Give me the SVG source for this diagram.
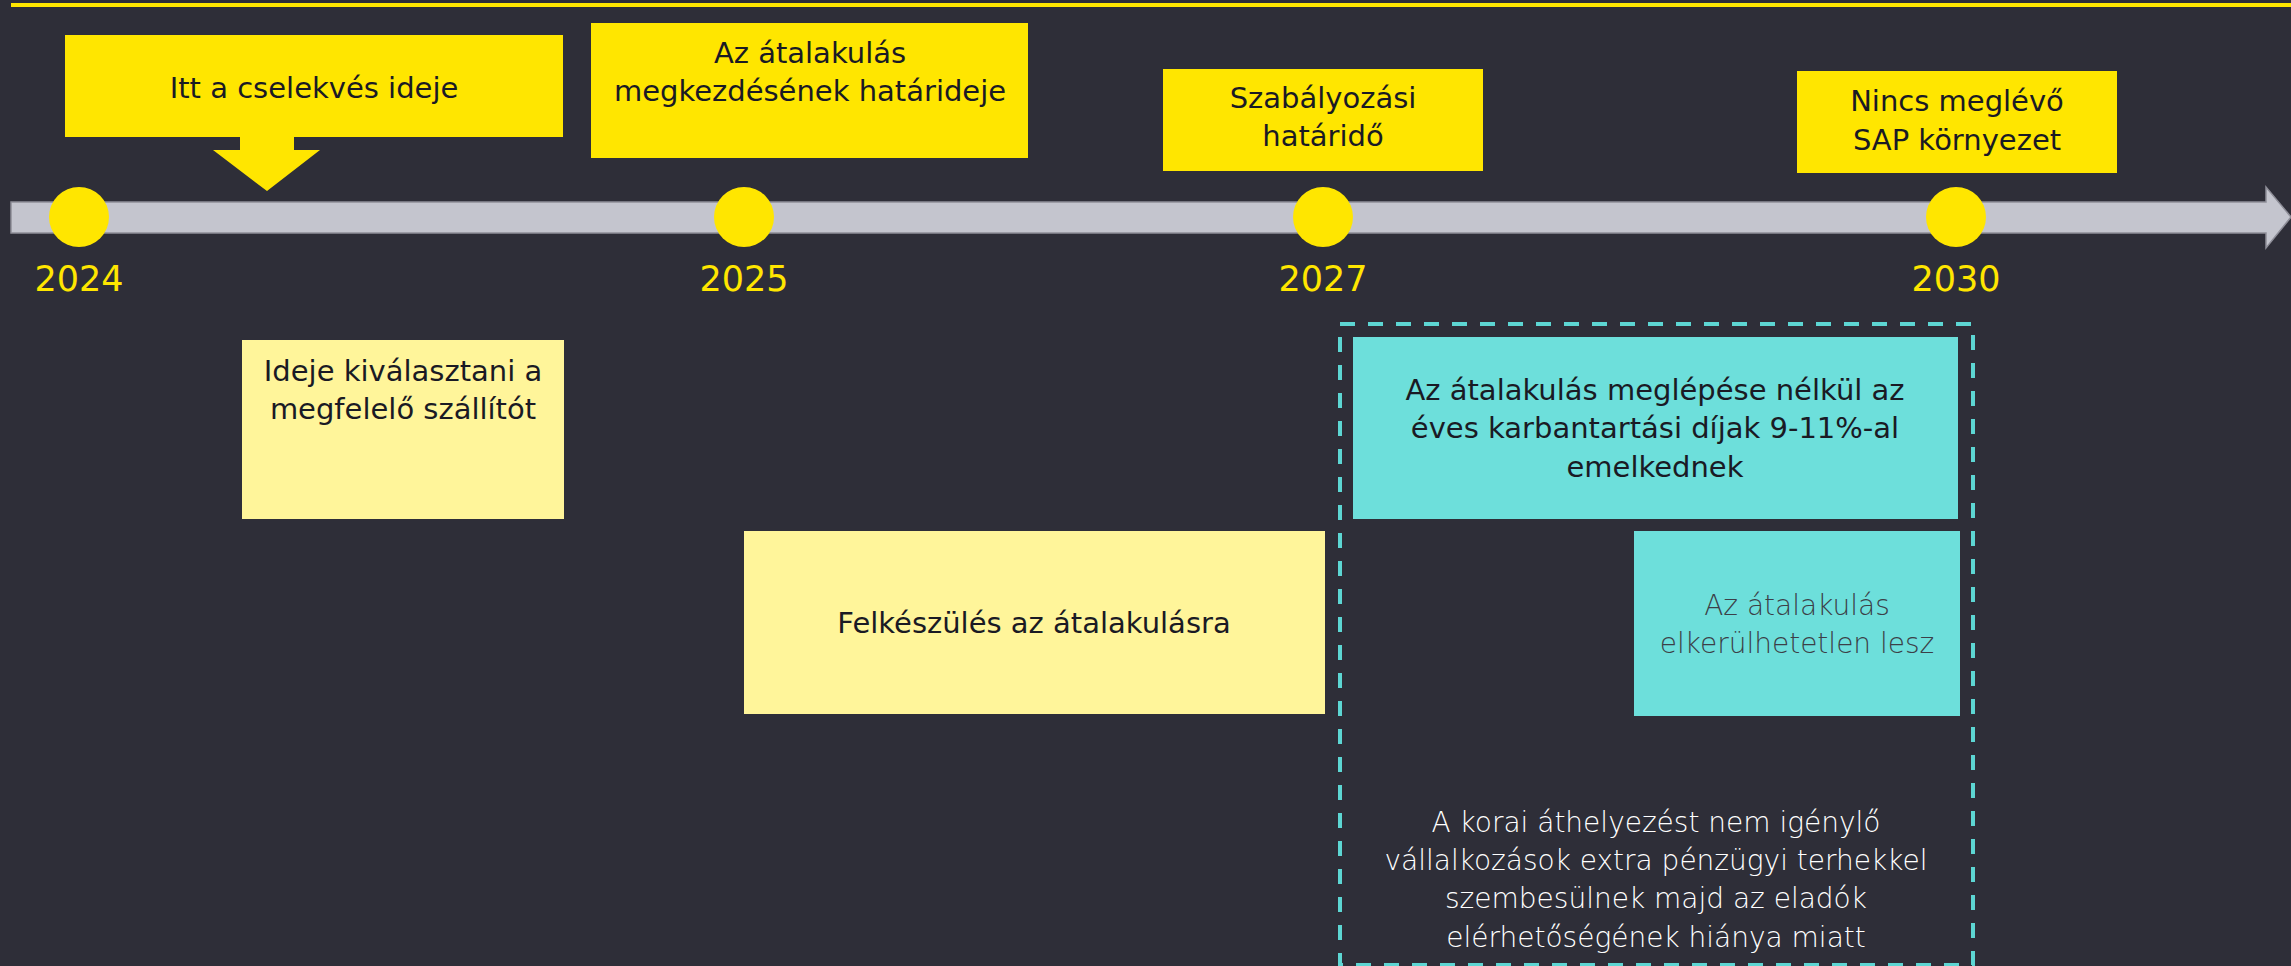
<svg xmlns="http://www.w3.org/2000/svg" width="2291" height="966" viewBox="0 0 2291 966">
<style>
.t{font-family:"DejaVu Sans","Liberation Sans",sans-serif;text-anchor:middle}
.dk{fill:#1a1a24;font-size:29px}
.yr{fill:#ffe600;font-size:35px}
.lt{font-size:28px;font-weight:200}
.yb{fill:#ffe600}
.ly{fill:#fff59a}
.cy{fill:#6ddfdb}
</style>
<rect x="0" y="0" width="2291" height="966" fill="#2e2e38"/>
<rect x="11" y="3" width="2280" height="4" fill="#ffe600"/>
<g id="timeline">
<polygon points="11,202 2266,202 2266,187 2291,217 2266,248 2266,233 11,233" fill="#c4c5ce" stroke="#8e8e98" stroke-width="1.5"/>
<circle cx="79" cy="217" r="30" fill="#ffe600"/>
<circle cx="744" cy="217" r="30" fill="#ffe600"/>
<circle cx="1323" cy="217" r="30" fill="#ffe600"/>
<circle cx="1956" cy="217" r="30" fill="#ffe600"/>
<text class="t yr" x="79" y="291">2024</text>
<text class="t yr" x="744" y="291">2025</text>
<text class="t yr" x="1323" y="291">2027</text>
<text class="t yr" x="1956" y="291">2030</text>
</g>
<g id="connectors">
<polygon points="240,136 294,136 294,150 320,150 267,191 213,150 240,150" fill="#ffe600"/>
</g>
<g id="n1">
<rect class="yb" x="65" y="35" width="498" height="102"/>
<text class="t dk" x="314" y="98">Itt a cselekvés ideje</text>
</g>
<g id="n2">
<rect class="yb" x="591" y="23" width="437" height="135"/>
<text class="t dk" x="810" y="63">Az átalakulás</text>
<text class="t dk" x="810" y="101">megkezdésének határideje</text>
</g>
<g id="n3">
<rect class="yb" x="1163" y="69" width="320" height="102"/>
<text class="t dk" x="1323" y="108">Szabályozási</text>
<text class="t dk" x="1323" y="146">határidő</text>
</g>
<g id="n4">
<rect class="yb" x="1797" y="71" width="320" height="102"/>
<text class="t dk" x="1957" y="111">Nincs meglévő</text>
<text class="t dk" x="1957" y="150">SAP környezet</text>
</g>
<g id="n5">
<rect class="ly" x="242" y="340" width="322" height="179"/>
<text class="t dk" x="403" y="381">Ideje kiválasztani a</text>
<text class="t dk" x="403" y="419">megfelelő szállítót</text>
</g>
<g id="n6">
<rect class="ly" x="744" y="531" width="581" height="183"/>
<text class="t dk" x="1034" y="633">Felkészülés az átalakulásra</text>
</g>
<g id="group2027">
<rect x="1340" y="324" width="633" height="641" fill="none" stroke="#5dd6d3" stroke-width="4" stroke-dasharray="15 13"/>
</g>
<g id="n7">
<rect class="cy" x="1353" y="337" width="605" height="182"/>
<text class="t dk" x="1655" y="400">Az átalakulás meglépése nélkül az</text>
<text class="t dk" x="1655" y="438">éves karbantartási díjak 9-11%-al</text>
<text class="t dk" x="1655" y="477">emelkednek</text>
</g>
<g id="n8">
<rect class="cy" x="1634" y="531" width="326" height="185"/>
<text class="t lt" x="1797" y="615" fill="#3c3f48">Az átalakulás</text>
<text class="t lt" x="1797" y="653" fill="#3c3f48">elkerülhetetlen lesz</text>
</g>
<g id="n9">
<text class="t lt" x="1656" y="832" fill="#ffffff">A korai áthelyezést nem igénylő</text>
<text class="t lt" x="1656" y="870" fill="#ffffff">vállalkozások extra pénzügyi terhekkel</text>
<text class="t lt" x="1656" y="908" fill="#ffffff">szembesülnek majd az eladók</text>
<text class="t lt" x="1656" y="947" fill="#ffffff">elérhetőségének hiánya miatt</text>
</g>
</svg>
